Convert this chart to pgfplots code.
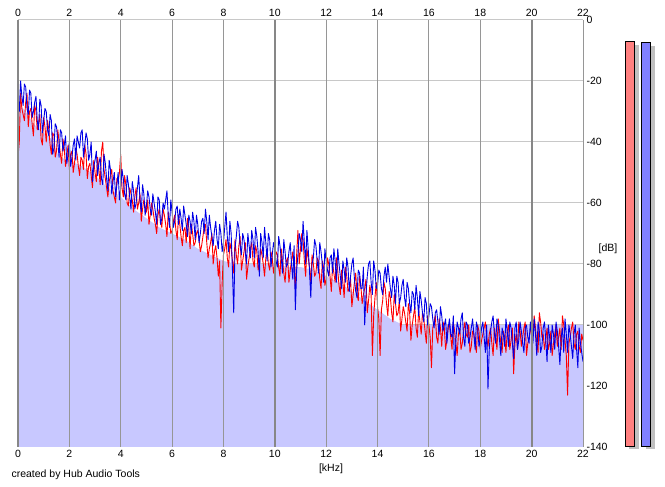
\documentclass[border=0pt]{standalone}
\usepackage{pgfplots}
\pgfplotsset{compat=1.18}
\usepackage{pgfplotstable}
\usepackage{fontspec}
\setmainfont{Liberation Sans}
\definecolor{fillc}{RGB}{200,200,255}
\definecolor{gridh}{RGB}{200,200,200}
\definecolor{gridv}{RGB}{150,150,150}
\definecolor{gridvd}{RGB}{135,135,135}
\definecolor{redbar}{RGB}{255,128,128}
\definecolor{bluebar}{RGB}{128,128,255}
\definecolor{shadowc}{RGB}{192,192,192}
\definecolor{specred}{RGB}{255,0,0}
\definecolor{specblue}{RGB}{0,0,230}
\pgfplotstableread{
x b r
0.0 -26 -45
0.05 -30 -40
0.1 -20 -24
0.15 -25 -29
0.2 -28 -31
0.25 -21 -33
0.3 -22 -27
0.35 -29 -24
0.4 -31 -35
0.45 -23 -30
0.5 -24 -29
0.55 -32 -34
0.6 -30 -38
0.65 -27 -28
0.7 -25 -30
0.75 -33 -36
0.8 -36 -34
0.85 -26 -31
0.9 -28 -39
0.95 -37 -41
1.0 -33 -32
1.05 -29 -35
1.1 -30 -40
1.15 -36 -33
1.2 -38 -36
1.25 -31 -41
1.3 -33 -44
1.35 -44 -37
1.4 -42 -38
1.45 -34 -45
1.5 -35 -43
1.55 -40 -36
1.6 -45 -40
1.65 -36 -44
1.7 -37 -47
1.75 -43 -39
1.8 -41 -42
1.85 -38 -48
1.9 -47 -45
1.95 -44 -41
2.0 -40 -49
2.05 -48 -44
2.1 -45 -43
2.15 -41 -50
2.2 -39 -47
2.25 -46 -42
2.3 -38 -44
2.35 -40 -48
2.4 -42 -51
2.45 -37 -45
2.5 -36 -46
2.55 -45 -49
2.6 -41 -41
2.65 -37 -44
2.7 -39 -52
2.75 -46 -48
2.8 -44 -47
2.85 -40 -51
2.9 -53 -55
2.95 -48 -46
3.0 -46 -50
3.05 -43 -53
3.1 -51 -45
3.15 -47 -49
3.2 -45 -54
3.25 -52 -43
3.3 -54 -40
3.35 -44 -49
3.4 -47 -52
3.45 -52 -55
3.5 -56 -58
3.55 -46 -53
3.6 -49 -51
3.65 -57 -49
3.7 -53 -56
3.75 -50 -58
3.8 -58 -60
3.85 -54 -52
3.9 -50 -53
3.95 -59 -50
4.0 -55 -44
4.05 -49 -55
4.1 -52 -58
4.15 -57 -51
4.2 -59 -54
4.25 -51 -60
4.3 -54 -61
4.35 -58 -55
4.4 -62 -57
4.45 -53 -59
4.5 -56 -63
4.55 -62 -58
4.6 -60 -55
4.65 -55 -62
4.7 -51 -60
4.75 -59 -57
4.8 -63 -66
4.85 -54 -62
4.9 -57 -59
4.95 -64 -61
5.0 -61 -63
5.05 -56 -59
5.1 -58 -67
5.15 -62 -64
5.2 -64 -60
5.25 -57 -62
5.3 -60 -65
5.35 -63 -67
5.4 -67 -70
5.45 -58 -64
5.5 -59 -62
5.55 -67 -66
5.6 -65 -68
5.65 -60 -62
5.7 -62 -64
5.75 -59 -67
5.8 -56 -71
5.85 -64 -63
5.9 -68 -66
5.95 -59 -70
6.0 -63 -69
6.05 -68 -66
6.1 -66 -64
6.15 -62 -69
6.2 -61 -72
6.25 -67 -64
6.3 -62 -67
6.35 -65 -71
6.4 -69 -74
6.45 -61 -69
6.5 -64 -68
6.55 -67 -73
6.6 -71 -65
6.65 -64 -68
6.7 -66 -75
6.75 -70 -67
6.8 -63 -70
6.85 -66 -74
6.9 -72 -73
6.95 -64 -70
7.0 -67 -69
7.05 -73 -72
7.1 -70 -76
7.15 -66 -74
7.2 -65 -71
7.25 -70 -68
7.3 -62 -67
7.35 -66 -73
7.4 -72 -78
7.45 -64 -75
7.5 -68 -73
7.55 -71 -70
7.6 -74 -80
7.65 -69 -76
7.7 -66 -74
7.75 -72 -78
7.8 -75 -84
7.85 -67 -79
7.9 -70 -101
7.95 -76 -86
8.0 -73 -77
8.05 -68 -75
8.1 -63 -72
8.15 -71 -78
8.2 -76 -81
8.25 -66 -73
8.3 -70 -75
8.35 -82 -79
8.4 -96 -83
8.45 -75 -72
8.5 -71 -77
8.55 -66 -80
8.6 -68 -74
8.65 -74 -71
8.7 -77 -82
8.75 -70 -79
8.8 -72 -76
8.85 -76 -73
8.9 -80 -85
8.95 -70 -81
9.0 -74 -78
9.05 -78 -75
9.1 -69 -73
9.15 -72 -79
9.2 -78 -81
9.25 -68 -74
9.3 -71 -76
9.35 -76 -82
9.4 -84 -80
9.45 -70 -75
9.5 -73 -77
9.55 -78 -80
9.6 -68 -84
9.65 -73 -78
9.7 -79 -75
9.75 -70 -80
9.8 -72 -82
9.85 -81 -76
9.9 -77 -78
9.95 -73 -83
10.0 -75 -80
10.05 -79 -76
10.1 -81 -77
10.15 -71 -81
10.2 -74 -84
10.25 -78 -75
10.3 -83 -79
10.35 -72 -83
10.4 -76 -86
10.45 -81 -79
10.5 -80 -78
10.55 -76 -86
10.6 -73 -82
10.65 -80 -79
10.7 -85 -76
10.75 -74 -82
10.8 -95 -88
10.85 -82 -77
10.9 -77 -69
10.95 -70 -80
11.0 -72 -75
11.05 -76 -70
11.1 -66 -72
11.15 -73 -79
11.2 -80 -84
11.25 -69 -75
11.3 -75 -78
11.35 -82 -81
11.4 -91 -86
11.45 -80 -77
11.5 -78 -80
11.55 -72 -84
11.6 -74 -83
11.65 -79 -78
11.7 -83 -79
11.75 -73 -85
11.8 -76 -88
11.85 -80 -79
11.9 -86 -81
11.95 -75 -87
12.0 -79 -85
12.05 -82 -78
12.1 -84 -80
12.15 -78 -84
12.2 -77 -89
12.25 -83 -80
12.3 -75 -83
12.35 -79 -86
12.4 -86 -78
12.45 -75 -82
12.5 -80 -87
12.55 -84 -90
12.6 -88 -82
12.65 -79 -86
12.7 -82 -91
12.75 -86 -81
12.8 -78 -84
12.85 -81 -89
12.9 -89 -88
12.95 -84 -85
13.0 -80 -94
13.05 -78 -90
13.1 -85 -86
13.15 -89 -83
13.2 -91 -90
13.25 -82 -92
13.3 -83 -84
13.35 -88 -87
13.4 -88 -93
13.45 -81 -90
13.5 -100 -88
13.55 -90 -85
13.6 -84 -96
13.65 -80 -92
13.7 -79 -87
13.75 -86 -90
13.8 -90 -110
13.85 -79 -97
13.9 -82 -91
13.95 -88 -86
14.0 -87 -94
14.05 -82 -98
14.1 -83 -110
14.15 -88 -95
14.2 -90 -92
14.25 -84 -86
14.3 -81 -88
14.35 -86 -93
14.4 -80 -97
14.45 -84 -89
14.5 -88 -91
14.55 -91 -96
14.6 -84 -99
14.65 -87 -90
14.7 -93 -93
14.75 -84 -97
14.8 -86 -96
14.85 -93 -92
14.9 -91 -102
14.95 -87 -98
15.0 -85 -94
15.05 -91 -96
15.1 -94 -99
15.15 -86 -102
15.2 -88 -93
15.25 -93 -96
15.3 -96 -105
15.35 -89 -100
15.4 -90 -97
15.45 -95 -94
15.5 -87 -101
15.55 -91 -104
15.6 -97 -95
15.65 -89 -99
15.7 -92 -103
15.75 -96 -96
15.8 -99 -98
15.85 -91 -102
15.9 -93 -106
15.95 -100 -97
16.0 -97 -100
16.05 -93 -104
16.1 -94 -114
16.15 -98 -101
16.2 -101 -99
16.25 -96 -97
16.3 -95 -104
16.35 -99 -106
16.4 -103 -98
16.45 -94 -101
16.5 -97 -107
16.55 -102 -99
16.6 -100 -101
16.65 -98 -108
16.7 -106 -105
16.75 -101 -100
16.8 -98 -100
16.85 -103 -104
16.9 -104 -108
16.95 -97 -99
17.0 -116 -102
17.05 -105 -106
17.1 -99 -110
17.15 -101 -103
17.2 -103 -101
17.25 -98 -108
17.3 -96 -106
17.35 -104 -102
17.4 -107 -99
17.45 -99 -103
17.5 -100 -104
17.55 -106 -100
17.6 -104 -109
17.65 -101 -107
17.7 -98 -102
17.75 -103 -103
17.8 -108 -106
17.85 -99 -109
17.9 -101 -100
17.95 -107 -102
18.0 -105 -108
18.05 -101 -105
18.1 -99 -103
18.15 -104 -101
18.2 -109 -99
18.25 -100 -104
18.3 -121 -107
18.35 -108 -103
18.4 -102 -101
18.45 -99 -106
18.5 -97 -110
18.55 -103 -101
18.6 -106 -104
18.65 -98 -108
18.7 -100 -98
18.75 -105 -102
18.8 -110 -106
18.85 -101 -109
18.9 -103 -102
18.95 -107 -104
19.0 -98 -109
19.05 -102 -102
19.1 -107 -100
19.15 -99 -108
19.2 -101 -105
19.25 -106 -101
19.3 -111 -116
19.35 -101 -106
19.4 -99 -103
19.45 -108 -108
19.5 -105 -99
19.55 -99 -102
19.6 -102 -107
19.65 -106 -104
19.7 -109 -101
19.75 -101 -99
19.8 -100 -110
19.85 -104 -106
19.9 -106 -104
19.95 -99 -102
20.0 -103 -100
20.05 -106 -104
20.1 -98 -97
20.15 -103 -101
20.2 -110 -106
20.25 -99 -109
20.3 -102 -96
20.35 -109 -99
20.4 -107 -104
20.45 -101 -103
20.5 -99 -108
20.55 -105 -105
20.6 -112 -101
20.65 -100 -108
20.7 -104 -106
20.75 -109 -102
20.8 -100 -110
20.85 -103 -106
20.9 -108 -103
20.95 -99 -100
21.0 -102 -107
21.05 -107 -104
21.1 -113 -101
21.15 -104 -108
21.2 -101 -97
21.25 -109 -100
21.3 -98 -105
21.35 -103 -110
21.4 -109 -123
21.45 -100 -106
21.5 -103 -104
21.55 -107 -101
21.6 -111 -99
21.65 -103 -106
21.7 -100 -108
21.75 -108 -103
21.8 -114 -102
21.85 -101 -107
21.9 -106 -109
21.95 -109 -103
22.0 -112 -105
}\spectrum
\pgfplotstableread{
x f
0.0 -140
0.0 -27
0.3 -30
0.6 -34
1.0 -37
1.3 -39
1.6 -45
2.0 -46
2.5 -48
3.0 -51
3.5 -55
4.0 -58
4.5 -62
5.0 -65
5.5 -68
6.0 -70
6.5 -72
7.0 -75
7.5 -77
8.0 -79
8.5 -80
9.0 -80
10.0 -80
10.5 -81
11.0 -81
11.5 -82
12.0 -84
12.5 -86
13.0 -89
13.5 -92
14.0 -95
14.5 -98
15.0 -100
22.0 -100
22.0 -140
}\fillcurve
\begin{document}
\begin{tikzpicture}
\useasboundingbox (0,0) rectangle (665pt,487pt);
\tikzset{lbl/.style={font=\fontsize{10.5}{12}\selectfont}}
% main data axis
\begin{axis}[at={(18pt,40pt)}, anchor=south west, scale only axis,
  width=565pt, height=427pt,
  xmin=0, xmax=22, ymin=-140, ymax=0,
  axis line style={draw=none}, major tick length=0pt,
  xtick={0,2,...,22},
  ytick={-140,-120,-100,-80,-60,-40,-20,0},
  yticklabels={-140,-120,-100,-80,-60,-40,-20,0},
  yticklabel pos=right,
  ymajorgrids, grid style={color=gridh, line width=1pt},
  tick label style={font=\fontsize{10.5}{12}\selectfont},
  /pgf/number format/assume math mode=true]
\addplot[fill=fillc, draw=none] table[x=x, y=f] {\fillcurve} -- cycle;
\addplot[specred, line width=0.9pt, line join=round] table[x=x, y=r] {\spectrum};
\addplot[specblue, line width=0.9pt, line join=round] table[x=x, y=b] {\spectrum};
\end{axis}
% overlay axis: vertical grid on top, top tick labels
\begin{axis}[at={(18pt,40pt)}, anchor=south west, scale only axis,
  width=565pt, height=427pt,
  xmin=0, xmax=22, ymin=-140, ymax=0,
  axis line style={draw=none}, major tick length=0pt,
  xtick={0,2,...,22}, xticklabel pos=top, ytick=\empty,
  xmajorgrids, grid style={color=gridv, line width=1pt},
  extra x ticks={0,10,20}, extra x tick labels={},
  extra x tick style={grid style={color=gridvd, line width=2.2pt}},
  tick label style={font=\fontsize{10.5}{12}\selectfont},
  /pgf/number format/assume math mode=true]
\end{axis}
% level meters
\begin{axis}[at={(615pt,40pt)}, anchor=south west, scale only axis,
  width=50pt, height=427pt, xmin=615, xmax=665, ymin=-140, ymax=0,
  hide axis, clip=false]
\addplot[fill=shadowc, draw=none] coordinates {(629,-8.2) (638.7,-8.2) (638.7,-140.8) (629,-140.8)} -- cycle;
\addplot[fill=shadowc, draw=none] coordinates {(645.5,-8.5) (655,-8.5) (655,-140.8) (645.5,-140.8)} -- cycle;
\addplot[fill=redbar, draw=black, line width=1pt] coordinates {(625,-7.0) (634.3,-7.0) (634.3,-140) (625,-140)} -- cycle;
\addplot[fill=bluebar, draw=black, line width=1pt] coordinates {(641.3,-7.3) (650.7,-7.3) (650.7,-140) (641.3,-140)} -- cycle;
\end{axis}
\node[lbl, anchor=west] at (8pt,12pt) {created by Hub Audio Tools};
\node[lbl] at (331pt,18pt) {[kHz]};
\node[lbl] at (608pt,238pt) {[dB]};
\end{tikzpicture}
\end{document}
